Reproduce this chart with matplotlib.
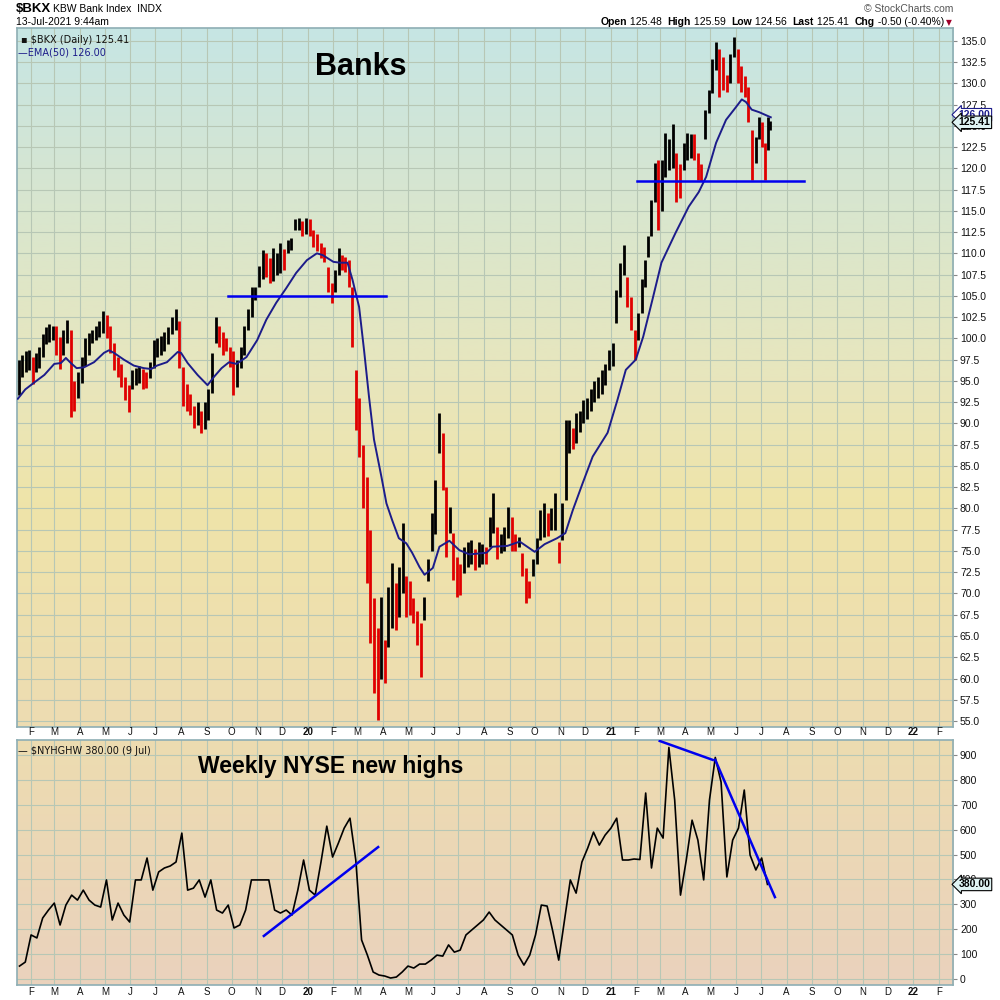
import numpy as np
import pandas as pd
import matplotlib
matplotlib.use('Agg')
import matplotlib.pyplot as plt
import matplotlib.dates as mdates
import matplotlib.transforms as mtrans
from matplotlib.colors import LinearSegmentedColormap

plt.rcParams['font.family'] = ['Liberation Sans', 'DejaVu Sans']

# ---------------- data ----------------
bkx_months = pd.date_range('2019-01-01', '2021-07-01', freq='MS')
bkx_high = [
    [97.5, 98.0, 98.5, 98.6],
    [97.8, 98.3, 99.0, 100.5, 101.3, 101.7, 101.5],
    [101.4, 100.2, 101.0, 102.2, 101.0, 95.0, 96.0],
    [97.8, 100.0, 100.6, 101.0, 101.5, 102.0, 103.2],
    [102.8, 101.5, 99.5, 97.8, 97.0, 95.5, 94.5],
    [96.3, 96.5, 96.8, 96.4, 96.0, 97.2, 99.8],
    [100.0, 100.3, 100.8, 101.3, 102.5, 103.4, 102.0],
    [96.6, 94.6, 93.5, 92.0, 92.5, 91.5, 92.5],
    [94.0, 98.3, 102.5, 101.5, 100.8, 100.0, 99.0],
    [98.5, 97.5, 99.0, 101.4, 103.5, 106.0, 106.0],
    [108.5, 110.4, 110.0, 109.5, 110.6, 110.0, 111.2],
    [110.5, 111.6, 111.8, 114.0, 114.2, 113.8, 114.2],
    [114.0, 112.8, 112.3, 111.2, 110.8, 108.4, 106.5],
    [108.0, 110.6, 109.8, 109.6, 109.2, 106.0, 96.3],
    [93.0, 87.5, 83.7, 77.5, 69.5, 66.0, 69.6],
    [64.5, 70.8, 73.6, 71.2, 73.1, 78.3, 72.0],
    [71.5, 69.5, 68.0, 66.5, 69.6, 74.0, 79.5],
    [83.4, 91.2, 88.9, 82.5, 80.2, 77.1, 74.3],
    [73.5, 75.5, 76.0, 76.3, 75.2, 76.0, 75.8],
    [75.5, 79.0, 81.8, 77.8, 77.0, 77.8, 80.2],
    [79.0, 77.0, 76.7, 74.8, 73.0, 71.5, 74.0],
    [76.5, 79.8, 80.6, 79.5, 80.0, 81.8, 76.0],
    [80.6, 90.4, 90.4, 89.5, 91.2, 91.5, 92.8],
    [93.0, 94.0, 95.0, 95.5, 96.3, 97.0, 98.6],
    [99.5, 105.7, 108.9, 111.0, 107.2, 104.9, 101.0],
    [103.0, 107.0, 109.2, 112.0, 116.3, 120.6, 121.0],
    [121.0, 124.2, 123.4, 125.2, 121.8, 120.5, 123.0],
    [124.2, 124.0, 124.0, 121.8, 120.5, 126.9, 129.2],
    [132.8, 134.8, 134.0, 133.1, 131.0, 133.5, 135.5],
    [134.0, 132.0, 130.8, 129.6, 124.5, 123.7, 126.0],
    [125.5, 123.0, 126.0, 125.59],
]
bkx_low = [
    [93.3, 95.5, 96.0, 96.3],
    [94.6, 96.0, 96.5, 97.8, 99.3, 99.6, 99.8],
    [98.0, 96.4, 98.0, 99.5, 90.7, 91.5, 93.0],
    [94.8, 96.8, 98.0, 99.5, 99.8, 100.2, 100.6],
    [100.0, 98.3, 96.3, 95.5, 94.3, 92.8, 91.3],
    [94.0, 94.5, 94.8, 94.0, 94.2, 95.3, 96.5],
    [97.8, 98.0, 98.5, 99.3, 100.5, 101.0, 96.5],
    [92.0, 91.5, 91.0, 89.5, 89.8, 88.9, 89.3],
    [90.4, 93.6, 99.5, 99.0, 98.0, 98.5, 96.6],
    [93.3, 94.3, 96.5, 98.0, 101.0, 102.5, 104.5],
    [106.0, 107.0, 107.2, 106.5, 106.8, 107.5, 107.7],
    [108.0, 110.0, 110.4, 112.8, 112.8, 112.0, 112.3],
    [112.0, 110.8, 110.3, 109.5, 109.0, 105.4, 104.2],
    [105.5, 107.5, 108.0, 107.8, 106.0, 99.0, 89.2],
    [86.0, 80.0, 71.2, 64.2, 58.3, 55.1, 60.0],
    [59.5, 63.7, 66.0, 65.7, 67.2, 70.0, 67.2],
    [67.5, 66.5, 64.0, 60.2, 66.9, 71.5, 75.0],
    [77.0, 86.5, 82.2, 74.3, 77.1, 71.6, 69.6],
    [69.8, 72.4, 73.1, 73.5, 72.8, 73.1, 73.5],
    [73.5, 75.5, 77.1, 74.0, 74.8, 75.0, 76.5],
    [75.0, 75.0, 75.5, 72.0, 68.9, 69.5, 72.0],
    [73.5, 76.3, 76.6, 76.8, 77.5, 77.5, 73.6],
    [76.3, 81.0, 86.5, 87.0, 87.7, 89.0, 90.0],
    [90.5, 91.5, 92.5, 93.0, 93.5, 94.5, 96.3],
    [96.8, 101.8, 104.9, 107.5, 103.7, 101.0, 97.5],
    [99.8, 103.0, 106.0, 109.6, 112.0, 116.0, 112.8],
    [115.0, 119.0, 119.8, 120.0, 116.0, 116.5, 119.8],
    [121.0, 121.2, 121.0, 118.6, 118.5, 123.4, 126.5],
    [128.9, 131.6, 128.4, 129.2, 129.0, 130.0, 133.1],
    [130.0, 129.0, 128.4, 125.4, 118.6, 120.6, 123.4],
    [122.5, 118.6, 122.2, 124.56],
]
bkx_first_day = '2019-01-15'
bkx_last_day = '2021-07-14'

ema_dates = ['2019-01-16', '2019-01-25', '2019-02-06', '2019-02-17', '2019-03-01', '2019-03-09',
             '2019-03-15', '2019-03-21', '2019-03-28', '2019-04-06', '2019-04-18', '2019-04-30',
             '2019-05-06', '2019-05-12', '2019-05-24', '2019-06-05', '2019-06-17', '2019-06-26',
             '2019-07-03', '2019-07-15', '2019-07-28', '2019-08-01', '2019-08-09', '2019-08-21',
             '2019-09-02', '2019-09-10', '2019-09-19', '2019-09-28', '2019-10-07', '2019-10-19',
             '2019-11-01', '2019-11-12', '2019-11-24', '2019-12-06', '2019-12-18', '2019-12-31',
             '2020-01-12', '2020-01-19', '2020-02-01', '2020-02-09', '2020-02-18', '2020-02-24',
             '2020-03-03', '2020-03-09', '2020-03-15', '2020-03-21', '2020-03-30', '2020-04-05',
             '2020-04-12', '2020-04-20', '2020-04-29', '2020-05-06', '2020-05-15', '2020-05-21',
             '2020-05-31', '2020-06-08', '2020-06-20', '2020-07-02', '2020-07-14', '2020-08-04',
             '2020-08-11', '2020-08-29', '2020-09-13', '2020-09-22', '2020-10-01', '2020-10-13',
             '2020-10-28', '2020-11-07', '2020-11-16', '2020-11-28', '2020-12-10', '2020-12-28',
             '2021-01-09', '2021-01-19', '2021-01-31', '2021-02-09', '2021-02-20', '2021-03-03',
             '2021-03-20', '2021-04-05', '2021-04-17', '2021-04-26', '2021-05-08', '2021-05-20',
             '2021-06-01', '2021-06-08', '2021-06-13', '2021-06-20', '2021-06-29', '2021-07-13']
ema_values = [92.9, 94.0, 94.9, 95.7, 97.0, 97.1, 97.7, 97.1, 96.5, 96.6, 97.2, 98.3,
              98.6, 98.3, 97.5, 96.8, 96.5, 96.4, 96.8, 97.2, 98.4, 98.3, 97.1, 95.7,
              94.5, 95.5, 96.5, 97.2, 97.0, 97.8, 99.8, 102.2, 104.2, 105.9, 107.7, 109.2,
              110.0, 109.8, 109.0, 108.9, 108.9, 106.9, 103.7, 98.6, 93.1, 88.1, 83.7, 80.6,
              78.6, 76.5, 75.9, 74.8, 73.1, 72.2, 73.0, 75.5, 76.2, 75.1, 74.6, 74.8,
              75.5, 75.6, 76.1, 75.5, 74.9, 75.8, 76.5, 77.1, 79.8, 83.0, 86.1, 88.9,
              92.8, 96.3, 97.5, 100.2, 104.5, 108.9, 112.4, 115.5, 117.2, 119.0, 123.0, 125.7,
              127.2, 128.1, 127.8, 126.9, 126.6, 126.0]

support_lines = [  # (start, end, level)
    ('2019-09-27', '2020-04-04', 105.0),
    ('2021-02-01', '2021-08-22', 118.5),
]

nyhghw_start = '2019-01-18'
nyhghw = [52, 68, 177, 165, 245, 277, 305, 217, 297, 337,
          317, 357, 317, 297, 289, 398, 237, 305, 257, 229,
          398, 398, 486, 357, 430, 446, 454, 470, 586, 357,
          365, 398, 329, 398, 277, 265, 297, 205, 217, 277,
          398, 398, 398, 398, 277, 265, 277, 257, 357, 478,
          357, 337, 470, 614, 490, 546, 606, 646, 478, 157,
          96, 28, 16, 12, 4, 8, 28, 52, 44, 60,
          60, 76, 96, 92, 137, 108, 116, 177, 197, 217,
          237, 269, 237, 217, 197, 177, 96, 56, 96, 177,
          297, 293, 189, 76, 237, 398, 345, 470, 526, 590,
          538, 578, 606, 646, 478, 478, 482, 480, 747, 446,
          606, 566, 930, 719, 337, 478, 638, 558, 398, 719,
          890, 791, 410, 558, 606, 759, 498, 438, 486, 380]

trend_lines = [  # (date1, value1, date2, value2)
    ('2019-11-09', 173, '2020-03-26', 530),
    ('2021-03-01', 956, '2021-05-04', 880),
    ('2021-05-07', 880, '2021-07-18', 329),
]

month_letters = ['J', 'F', 'M', 'A', 'M', 'J', 'J', 'A', 'S', 'O', 'N', 'D']
axis_months = pd.date_range('2019-02-01', '2022-02-01', freq='MS')
top_ticks = np.arange(55.0, 135.1, 2.5)
bottom_ticks = np.arange(0, 901, 100)

# ---------------- figure ----------------
fig = plt.figure(figsize=(10, 10), dpi=100)
ax1 = fig.add_axes([0.017, 0.273, 0.936, 0.699])
ax2 = fig.add_axes([0.017, 0.015, 0.936, 0.245])

xmin = mdates.date2num(pd.Timestamp('2019-01-15'))
xmax = mdates.date2num(pd.Timestamp('2022-02-18'))


def gradient(ax, stops, colors):
    cmap = LinearSegmentedColormap.from_list('g', list(zip(stops, colors)))
    grad = np.linspace(0, 1, 256).reshape(-1, 1)
    ax.imshow(grad, aspect='auto', cmap=cmap, extent=[0, 1, 0, 1],
              transform=ax.transAxes, zorder=0, interpolation='bilinear')


gradient(ax1, [0, 0.25, 0.5, 0.68, 1.0],
         ['#c6e5e4', '#d8e6cf', '#e8e6bd', '#efe4a9', '#eddcb2'])
gradient(ax2, [0, 1.0], ['#eddcb0', '#ead2bd'])

grid_c = '#b7c7b5'
border_c = '#8eaeb4'
for ax in (ax1, ax2):
    for m in axis_months:
        ax.axvline(mdates.date2num(m), color=grid_c, lw=0.8, zorder=1)
    for s in ax.spines.values():
        s.set_color(border_c)
        s.set_linewidth(1.2)
for t in top_ticks:
    ax1.axhline(t, color=grid_c, lw=0.8, zorder=1)
for t in bottom_ticks:
    ax2.axhline(t, color=grid_c, lw=0.8, zorder=1)

# ---- price bars ----
xs, his, los = [], [], []
for k, (hl, ll) in enumerate(zip(bkx_high, bkx_low)):
    s = bkx_months[k]
    e = s + pd.offsets.MonthBegin(1)
    if k == 0:
        s = pd.Timestamp(bkx_first_day)
    if k == len(bkx_months) - 1:
        e = pd.Timestamp(bkx_last_day)
    s, e = mdates.date2num(s), mdates.date2num(e)
    n = len(hl)
    for i in range(n):
        xs.append(s + (i + 0.5) * (e - s) / n)
        his.append(hl[i])
        los.append(ll[i])
xs = np.array(xs); his = np.array(his); los = np.array(los)
mids = (his + los) / 2
cols = ['#000000'] + ['#e00000' if mids[i] < mids[i - 1] else '#000000' for i in range(1, len(mids))]
ax1.vlines(xs, los, his, colors=cols, lw=2.0, zorder=3)

ema_x = mdates.date2num(pd.to_datetime(ema_dates))
ax1.plot(ema_x, ema_values, color='#1c1c8a', lw=1.4, zorder=4)

for a, b, lvl in support_lines:
    ax1.plot(mdates.date2num(pd.to_datetime([a, b])), [lvl, lvl], color='#0000ee', lw=1.8, zorder=5)

# ---- bottom ----
wk = pd.date_range(nyhghw_start, periods=len(nyhghw), freq='W-FRI')
ax2.plot(mdates.date2num(wk), nyhghw, color='black', lw=1.2, zorder=3)
for d1, v1, d2, v2 in trend_lines:
    ax2.plot(mdates.date2num(pd.to_datetime([d1, d2])), [v1, v2], color='#0000ee', lw=1.8, zorder=5)

# ---- axes formatting ----
ax1.set_xlim(xmin, xmax)
ax2.set_xlim(xmin, xmax)
ax1.set_ylim(54.3, 136.5)
ax2.set_ylim(-24, 960)
ax1.yaxis.tick_right()
ax1.set_yticks(top_ticks)
ax1.set_yticklabels(['{:.1f}'.format(t) for t in top_ticks])
ax2.yaxis.tick_right()
ax2.set_yticks(bottom_ticks)
ax2.set_yticklabels([str(int(t)) for t in bottom_ticks])
for ax in (ax1, ax2):
    ax.tick_params(axis='y', length=3, width=0.8, color='#888888', labelsize=7.5, pad=2,
                   labelcolor='#111111')
    ax.set_xticks([])

# month labels
for ax, yfig in ((ax1, 0.268), (ax2, 0.008)):
    tr = mtrans.blended_transform_factory(ax.transData, fig.transFigure)
    for m in axis_months:
        if m.month == 1:
            lab, fw = m.strftime('%y'), 'bold'
        else:
            lab, fw = month_letters[m.month - 1], 'normal'
        ax.text(mdates.date2num(m), yfig, lab, transform=tr, ha='center', va='center',
                fontsize=7, fontweight=fw, color='#111111', clip_on=False)

# value tags
def tag(ax, y, text, fc, ec, tc, z):
    tr = mtrans.blended_transform_factory(ax.transAxes, ax.transData)
    ax.text(1.006, y, text, transform=tr, ha='left', va='center', fontsize=7.5,
            fontweight='bold', color=tc, zorder=z, clip_on=False,
            bbox=dict(boxstyle='larrow,pad=0.12', fc=fc, ec=ec, lw=0.8))

tag(ax1, 126.3, '126.00', 'white', '#1c1c8a', '#1c1c8a', 10)
tag(ax1, 125.41, '125.41', '#dff3f3', 'black', 'black', 11)
tag(ax2, 380, '380.00', '#dff3f3', 'black', 'black', 11)

# legends inside panels
ax1.text(0.004, 0.990, '\u25aa $BKX (Daily) 125.41', transform=ax1.transAxes, ha='left', va='top',
         fontsize=7, color='#111111', family='DejaVu Sans')
ax1.text(0.001, 0.972, '\u2014EMA(50) 126.00', transform=ax1.transAxes, ha='left', va='top',
         fontsize=7, color='#1c1c8a', family='DejaVu Sans')
ax2.text(0.001, 0.975, '\u2014 $NYHGHW 380.00 (9 Jul)', transform=ax2.transAxes, ha='left', va='top',
         fontsize=7, color='#111111', family='DejaVu Sans')

fig.text(0.315, 0.933, 'Banks', fontsize=22, fontweight='bold', ha='left', va='center')
fig.text(0.198, 0.233, 'Weekly NYSE new highs', fontsize=16.5, fontweight='bold', ha='left', va='center')

# header
fig.text(0.016, 0.991, '$BKX', fontsize=9.5, fontweight='bold', ha='left', va='center')
fig.text(0.053, 0.991, 'KBW Bank Index  INDX', fontsize=7.5, ha='left', va='center')
fig.text(0.016, 0.978, '13-Jul-2021 9:44am', fontsize=7.5, ha='left', va='center')
fig.text(0.953, 0.991, '\u00a9 StockCharts.com', fontsize=7.5, ha='right', va='center', color='#555555')

parts = [('Open', True), (' 125.48  ', False), ('High', True), (' 125.59  ', False),
         ('Low', True), (' 124.56  ', False), ('Last', True), (' 125.41  ', False),
         ('Chg', True), (' -0.50 (-0.40%)', False)]
fig.canvas.draw()
renderer = fig.canvas.get_renderer()
objs = []
cur = 0.0
for s, b in parts:
    t = fig.text(cur, 0.978, s, fontsize=7.5, fontweight='bold' if b else 'normal',
                 ha='left', va='center')
    objs.append(t)
    w = t.get_window_extent(renderer).width / fig.bbox.width
    cur += w
start = 0.944 - cur
for t in objs:
    x0, y0 = t.get_position()
    t.set_position((x0 + start, y0))
fig.text(0.949, 0.977, '\u25bc', fontsize=5.5, color='#a0002a', ha='center', va='center',
         family='DejaVu Sans')

fig.savefig('out.png', dpi=100, facecolor='white')
